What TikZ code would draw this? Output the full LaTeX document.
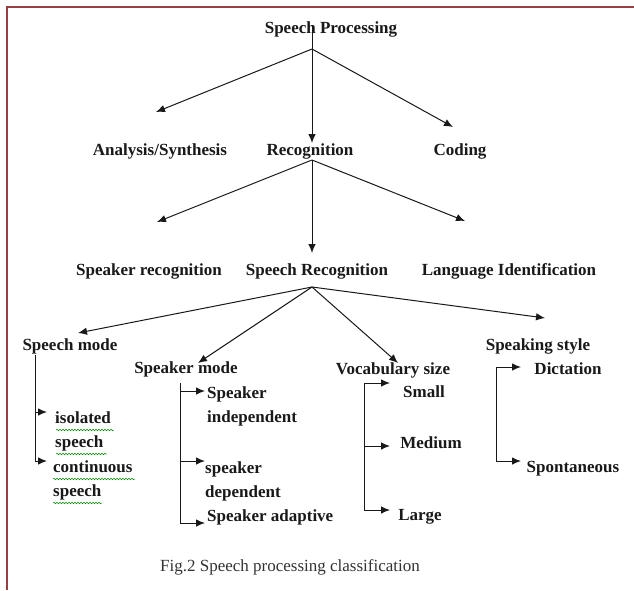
\documentclass[tikz,border=0pt]{standalone}
\usepackage{fontspec}
\setmainfont{Liberation Serif}
\usetikzlibrary{arrows.meta,decorations.pathmorphing}
\begin{document}
\begin{tikzpicture}[x=1pt,y=-1pt,
  lbl/.style={font=\fontsize{17}{24}\selectfont\bfseries, text=black!90, inner sep=0pt, text height=11pt, text depth=4pt},
  ml/.style={font=\fontsize{17}{24}\selectfont\bfseries, text=black!90, inner sep=0pt, anchor=base west},
  arr/.style={draw=black!90, line width=1pt, -{Latex[length=9pt,width=7.5pt]}},
  ln/.style={draw=black!90, line width=1pt},
  frm/.style={draw=red!45!black!75, line width=1.3pt},
  wav/.style={draw=green!55!black, line width=0.5pt, decorate, decoration={snake, amplitude=0.8pt, segment length=3pt}}]
\useasboundingbox (0,0) rectangle (634,590);
\fill[white] (0,0) rectangle (634,590);
\draw[frm] (7,590) -- (7,7) -- (634,7);

% level 0
\node[lbl] (sp) at (331,30) {Speech Processing};
% level 1
\node[lbl] (as) at (160,152) {Analysis/Synthesis};
\node[lbl] (rec) at (310,152) {Recognition};
\node[lbl] (cod) at (460,152) {Coding};
% level 2
\node[lbl] (spk) at (149,272) {Speaker recognition};
\node[lbl] (sr) at (317,272) {Speech Recognition};
\node[lbl] (li) at (509,272) {Language Identification};
% level 3
\node[lbl] (sm) at (70,347) {Speech mode};
\node[lbl] (km) at (186,370) {Speaker mode};
\node[lbl] (vs) at (393,371) {Vocabulary size};
\node[lbl] (ss) at (538,347) {Speaking style};
% leaves
\node[ml] (iso) at (55,423) {\begin{tabular}[t]{@{}l@{}}isolated\\speech\end{tabular}};
\node[ml] (con) at (53,472) {\begin{tabular}[t]{@{}l@{}}continuous\\speech\end{tabular}};
\node[ml] (ind) at (207,398) {\begin{tabular}[t]{@{}l@{}}Speaker\\independent\end{tabular}};
\node[ml] (dep) at (205,473) {\begin{tabular}[t]{@{}l@{}}speaker\\dependent\end{tabular}};
\node[ml] (ada) at (207,521) {Speaker adaptive};
\node[lbl] (sma) at (424,394) {Small};
\node[lbl] (med) at (431,445) {Medium};
\node[lbl] (lar) at (420,517) {Large};
\node[lbl] (dic) at (568,371) {Dictation};
\node[lbl] (spo) at (573,469) {Spontaneous};
% caption
\node[font=\fontsize{17}{20}\selectfont, text=black!80, inner sep=0pt, text height=11pt, text depth=4pt] (cap) at (290,568) {Fig.2 Speech processing classification};

% connectors level 0 -> 1
\coordinate (a0) at (312,49);
\coordinate (s0) at (312,25);
\coordinate (t0) at (312,143);
\coordinate (t0l) at (156,112);
\coordinate (t0r) at (453,127);
\draw[arr] (s0) -- (t0);
\draw[arr] (a0) -- (t0l);
\draw[arr] (a0) -- (t0r);
% level 1 -> 2
\coordinate (a1) at (312,160);
\coordinate (t1) at (312,253);
\coordinate (t1l) at (157,222);
\coordinate (t1r) at (465,221);
\draw[arr] (a1) -- (t1);
\draw[arr] (a1) -- (t1l);
\draw[arr] (a1) -- (t1r);
% level 2 -> 3
\coordinate (a2) at (312,287);
\coordinate (t2a) at (78,333);
\coordinate (t2b) at (198,363);
\coordinate (t2c) at (398,363);
\coordinate (t2d) at (545,318);
\draw[arr] (a2) -- (t2a);
\draw[arr] (a2) -- (t2b);
\draw[arr] (a2) -- (t2c);
\draw[arr] (a2) -- (t2d);

% speech mode bracket
\draw[ln] (35,355) -- (35,461);
\draw[arr] (35,412) -- (47,412);
\draw[arr] (35,461) -- (47,461);
% speaker mode bracket
\draw[ln] (180,383) -- (180,523);
\draw[arr] (180,391) -- (205,391);
\draw[arr] (180,461) -- (205,461);
\draw[arr] (180,523) -- (205,523);
% vocabulary bracket
\draw[ln] (364,383) -- (364,510);
\draw[arr] (364,383) -- (390,383);
\draw[arr] (364,446) -- (390,446);
\draw[arr] (364,510) -- (390,510);
% speaking style bracket
\draw[ln] (496,367) -- (496,461);
\draw[arr] (496,367) -- (521,367);
\draw[arr] (496,461) -- (521,461);

% spell-check underlines
\draw[wav] (56,430) -- (114,430);
\draw[wav] (56,454) -- (107,454);
\draw[wav] (53,479) -- (135,479);
\draw[wav] (53,503) -- (102,503);
\end{tikzpicture}
\end{document}
